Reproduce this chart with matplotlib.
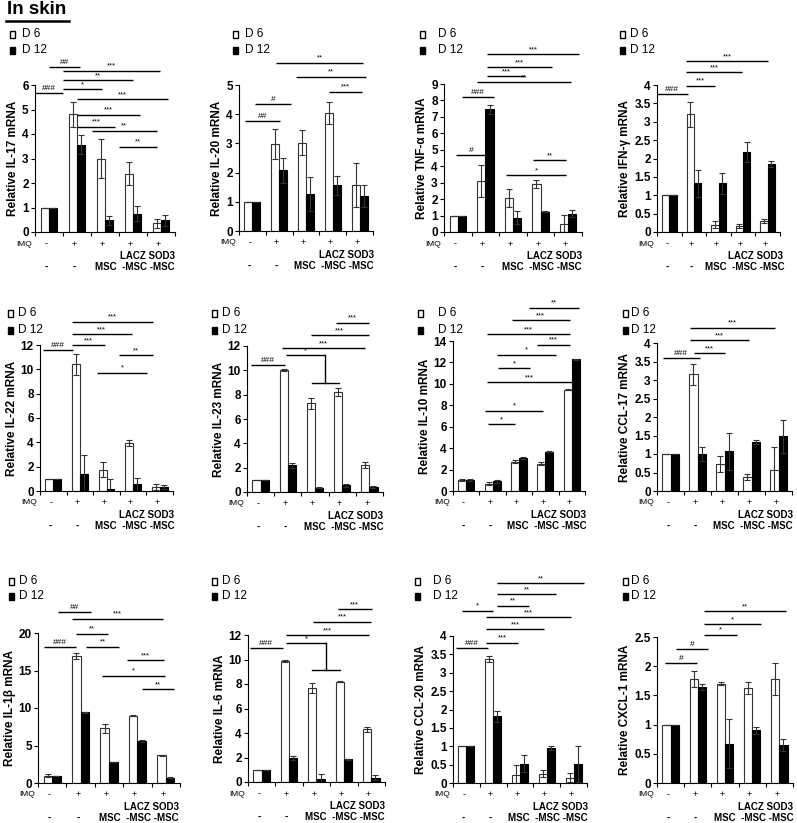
import matplotlib
matplotlib.use('Agg')
import matplotlib.pyplot as plt
import numpy as np
from matplotlib.patches import Rectangle
from matplotlib.lines import Line2D
from matplotlib.ticker import FormatStrFormatter

plt.rcParams['font.family'] = ['Liberation Sans', 'DejaVu Sans']

W, H = 797, 823

# x labels under each group
imq_row = ['-', '+', '+', '+', '+']
treat_row = ['-', '-']
vec_label = 'LACZ SOD3'
msc_label = 'MSC  -MSC -MSC'

# values (D 6 = white, D 12 = black)
il17_d6 = [1, 4.8, 3.0, 2.38, 0.35]
il17_d6_err = [0, 0.52, 0.78, 0.48, 0.18]
il17_d12 = [1, 3.57, 0.47, 0.75, 0.48]
il17_d12_err = [0, 0.4, 0.17, 0.32, 0.22]

il20_d6 = [1, 2.98, 3.03, 4.03, 1.58]
il20_d6_err = [0, 0.52, 0.42, 0.38, 0.75]
il20_d12 = [1, 2.08, 1.27, 1.57, 1.2]
il20_d12_err = [0, 0.42, 0.57, 0.32, 0.38]

tnf_d6 = [1, 3.1, 2.05, 2.93, 0.5]
tnf_d6_err = [0, 0.98, 0.55, 0.25, 0.52]
tnf_d12 = [1, 7.45, 0.88, 1.22, 1.12]
tnf_d12_err = [0, 0.3, 0.38, 0.03, 0.2]

ifn_d6 = [1, 3.2, 0.2, 0.17, 0.3]
ifn_d6_err = [0, 0.35, 0.1, 0.05, 0.05]
ifn_d12 = [1, 1.33, 1.32, 2.18, 1.85]
ifn_d12_err = [0, 0.37, 0.28, 0.27, 0.08]

il22_d6 = [1, 10.4, 1.75, 3.95, 0.3]
il22_d6_err = [0, 0.9, 0.6, 0.25, 0.25]
il22_d12 = [1, 1.4, 0.15, 0.55, 0.35]
il22_d12_err = [0, 1.6, 0.8, 0.55, 0.15]

il23_d6 = [1, 10.05, 7.3, 8.2, 2.2]
il23_d6_err = [0, 0.1, 0.45, 0.35, 0.25]
il23_d12 = [1, 2.2, 0.35, 0.55, 0.4]
il23_d12_err = [0, 0.2, 0.05, 0.1, 0.1]

il10_d6 = [1.0, 0.7, 2.75, 2.55, 9.45]
il10_d6_err = [0.1, 0.1, 0.12, 0.15, 0.05]
il10_d12 = [1.0, 0.9, 3.1, 3.65, 12.3]
il10_d12_err = [0.1, 0.12, 0.08, 0.05, 0.05]

ccl17_d6 = [1, 3.15, 0.73, 0.37, 0.58]
ccl17_d6_err = [0, 0.28, 0.22, 0.08, 0.62]
ccl17_d12 = [1, 1.0, 1.08, 1.32, 1.48]
ccl17_d12_err = [0, 0.18, 0.5, 0.05, 0.45]

il1b_d6 = [1, 17, 7.3, 9.0, 3.7]
il1b_d6_err = [0.2, 0.4, 0.6, 0.1, 0.05]
il1b_d12 = [1, 9.45, 2.8, 5.6, 0.7]
il1b_d12_err = [0, 0.05, 0.05, 0.15, 0.05]

il6_d6 = [1, 9.9, 7.7, 8.2, 4.3]
il6_d6_err = [0, 0.1, 0.4, 0.05, 0.2]
il6_d12 = [1, 1.95, 0.25, 1.85, 0.35]
il6_d12_err = [0, 0.15, 0.4, 0.03, 0.2]

ccl20_d6 = [1, 3.38, 0.22, 0.25, 0.14]
ccl20_d6_err = [0, 0.08, 0.27, 0.1, 0.12]
ccl20_d12 = [1, 1.82, 0.53, 0.96, 0.52]
ccl20_d12_err = [0, 0.15, 0.23, 0.06, 0.5]

cxcl1_d6 = [1, 1.78, 1.7, 1.63, 1.78]
cxcl1_d6_err = [0, 0.13, 0.03, 0.1, 0.27]
cxcl1_d12 = [1, 1.65, 0.67, 0.9, 0.65]
cxcl1_d12_err = [0, 0.05, 0.42, 0.06, 0.1]

# significance bars: (x start, x end, y, label)
il17_sig = [(-0.5, 0.5, 5.67, '###'), (0, 1.11, 6.72, '##'), (0.5, 3.96, 6.58, '***'),
            (0.5, 3.01, 6.19, '**'), (0.5, 1.88, 5.83, '*'), (0.99, 4.26, 5.42, '***'),
            (0.99, 3.25, 4.78, '***'), (0.99, 2.36, 4.30, '***'), (1.52, 3.85, 4.13, '**'),
            (2.51, 3.85, 3.48, '**')]
il20_sig = [(-0.29, 1.02, 3.78, '##'), (0.08, 1.45, 4.35, '#'), (0.89, 4.13, 5.76, '**'),
            (1.64, 4.25, 5.29, '**'), (2.86, 4.09, 4.77, '***')]
tnf_sig = [(0.17, 1.32, 8.19, '###'), (-0.06, 1.07, 4.68, '#'), (1.07, 4.38, 10.83, '***'),
           (1.07, 3.41, 10.02, '***'), (1.07, 2.42, 9.47, '***'), (0.71, 4.1, 9.12, '**'),
           (2.74, 3.92, 4.38, '**'), (1.75, 3.92, 3.46, '*')]
ifn_sig = [(-0.5, 0.74, 3.75, '###'), (0.69, 4.03, 4.65, '***'), (0.69, 2.95, 4.35, '***'),
           (0.69, 1.86, 3.98, '***')]
il22_sig = [(-0.375, 0.74, 11.59, '###'), (0.71, 3.74, 13.92, '***'), (0.71, 2.94, 12.9, '***'),
            (0.71, 1.94, 12.0, '***'), (2.48, 3.73, 11.18, '**'), (1.65, 3.53, 9.73, '*')]
il23_sig = [(-0.34, 0.88, 10.47, '###'), (0.95, 2.38, 11.23, '*'), (0.80, 3.85, 11.84, '***'),
            (1.84, 3.99, 12.88, '***'), (2.78, 3.99, 13.92, '***')]
il10_sig = [(2.39, 4.27, 17.1, '**'), (1.72, 3.93, 15.94, '***'), (0.77, 3.93, 14.66, '***'),
            (2.70, 3.93, 13.66, '***'), (1.15, 3.39, 12.72, '*'), (1.21, 2.41, 11.47, '*'),
            (0.77, 4.0, 10.16, '***'), (0.70, 2.92, 7.5, '*'), (0.83, 1.84, 6.25, '*')]
ccl17_sig = [(-0.28, 1.08, 3.59, '###'), (0.73, 3.88, 4.41, '***'), (0.73, 2.92, 4.07, '***'),
             (0.88, 2.0, 3.73, '***')]
il1b_sig = [(-0.29, 0.85, 18.1, '###'), (0.21, 1.38, 22.8, '##'), (0.68, 3.91, 21.9, '***'),
            (0.85, 1.97, 19.9, '**'), (1.18, 2.36, 18.2, '**'), (2.62, 3.94, 16.4, '***'),
            (1.74, 3.97, 14.3, '*'), (3.15, 4.29, 12.5, '**')]
il6_sig = [(-0.44, 0.77, 10.92, '###'), (0.90, 2.34, 11.33, '*'), (0.88, 3.93, 11.96, '***'),
           (1.88, 3.98, 13.1, '***'), (2.79, 4.01, 14.1, '***')]
ccl20_sig = [(-0.375, 0.81, 3.67, '###'), (0.73, 1.94, 3.82, '***'), (0.73, 2.91, 4.18, '***'),
             (0.73, 3.91, 4.51, '***'), (-0.15, 0.98, 4.69, '*'), (1.15, 2.35, 4.82, '**'),
             (1.15, 3.34, 5.13, '**'), (1.15, 4.38, 5.43, '**')]
cxcl1_sig = [(-0.2, 0.96, 2.05, '#'), (0.21, 1.39, 2.30, '#'), (1.21, 2.43, 2.54, '*'),
             (1.21, 3.34, 2.72, '*'), (1.21, 4.26, 2.94, '**')]

# bracket drop for IL-23 / IL-6: (x of drop, y top, y low, x low start, x low end)
il23_bracket = (2.38, 11.23, 8.96, 1.90, 2.88)
il6_bracket = (2.34, 11.33, 9.16, 1.85, 2.85)

# panel layout in pixels: left, right, top, bottom ; legend: square x, text x, y D6, y D12
panels = [
    ('Relative IL-17 mRNA', 6, 1, il17_d6, il17_d6_err, il17_d12, il17_d12_err, il17_sig, None,
     (35, 175, 85, 232), (10, 22, 34, 50)),
    ('Relative IL-20 mRNA', 5, 1, il20_d6, il20_d6_err, il20_d12, il20_d12_err, il20_sig, None,
     (239, 373, 85, 231), (233, 245, 34, 50)),
    ('Relative TNF-α mRNA', 9, 1, tnf_d6, tnf_d6_err, tnf_d12, tnf_d12_err, tnf_sig, None,
     (444, 582, 84, 232), (420, 438, 34, 50)),
    ('Relative IFN-γ mRNA', 4, 0.5, ifn_d6, ifn_d6_err, ifn_d12, ifn_d12_err, ifn_sig, None,
     (657, 780, 85, 232), (620, 630, 34, 50)),
    ('Relative IL-22 mRNA', 12, 2, il22_d6, il22_d6_err, il22_d12, il22_d12_err, il22_sig, None,
     (40, 173, 345, 491), (8, 18, 313, 330)),
    ('Relative IL-23 mRNA', 12, 2, il23_d6, il23_d6_err, il23_d12, il23_d12_err, il23_sig, il23_bracket,
     (247, 383, 346, 492), (212, 222, 313, 330)),
    ('Relative IL-10 mRNA', 14, 2, il10_d6, il10_d6_err, il10_d12, il10_d12_err, il10_sig, None,
     (453, 585, 341, 491), (418, 438, 313, 330)),
    ('Relative CCL-17 mRNA', 4, 0.5, ccl17_d6, ccl17_d6_err, ccl17_d12, ccl17_d12_err, ccl17_sig, None,
     (657, 792, 343, 491), (623, 631, 313, 330)),
    ('Relative IL-1β mRNA', 20, 5, il1b_d6, il1b_d6_err, il1b_d12, il1b_d12_err, il1b_sig, None,
     (38, 180, 633, 783), (9, 19, 581, 596)),
    ('Relative IL-6 mRNA', 12, 2, il6_d6, il6_d6_err, il6_d12, il6_d12_err, il6_sig, il6_bracket,
     (248, 385, 635, 782), (212, 222, 581, 596)),
    ('Relative CCL-20 mRNA', 4, 0.5, ccl20_d6, ccl20_d6_err, ccl20_d12, ccl20_d12_err, ccl20_sig, None,
     (453, 587, 636, 783), (415, 433, 581, 596)),
    ('Relative CXCL-1 mRNA', 2.5, 0.5, cxcl1_d6, cxcl1_d6_err, cxcl1_d12, cxcl1_d12_err, cxcl1_sig, None,
     (657, 793, 637, 783), (623, 631, 581, 596)),
]

fig = plt.figure(figsize=(W / 100, H / 100), dpi=100)

# title
fig.text(7 / W, 1 - 1 / H, 'In skin', fontsize=13.5, fontweight='bold', va='top', ha='left')
fig.add_artist(Line2D([6 / W, 69 / W], [1 - 21 / H, 1 - 21 / H], color='black', lw=1.8,
                      transform=fig.transFigure))

x = np.arange(5)
bw = 0.3

for (ylab, ymax, ystep, d6, d6e, d12, d12e, sig, bracket, box, leg) in panels:
    l, r, t, b = box
    ax = fig.add_axes([l / W, 1 - b / H, (r - l) / W, (b - t) / H])
    ax.bar(x - bw / 2, d6, bw, color='white', edgecolor='#333333', linewidth=0.8,
           yerr=d6e, capsize=2.2, error_kw=dict(elinewidth=0.8, capthick=0.8, ecolor='#333333'))
    ax.bar(x + bw / 2, d12, bw, color='black', edgecolor='black', linewidth=0.8,
           yerr=d12e, capsize=2.2, error_kw=dict(elinewidth=0.8, capthick=0.8, ecolor='#333333'))
    ax.set_xlim(-0.5, 4.5)
    ax.set_ylim(0, ymax)
    ax.set_yticks(np.arange(0, ymax + ystep / 2, ystep))
    ax.yaxis.set_major_formatter(FormatStrFormatter('%g'))
    ax.set_xticks(np.arange(-0.5, 5, 1))
    ax.set_xticklabels([])
    ax.tick_params(axis='x', direction='out', length=3, width=0.8)
    ax.tick_params(axis='y', direction='out', length=3, width=0.8, labelsize=8.5, pad=1.5)
    for lbl in ax.get_yticklabels():
        lbl.set_fontweight('bold')
    for s in ['top', 'right']:
        ax.spines[s].set_visible(False)
    for s in ['left', 'bottom']:
        ax.spines[s].set_linewidth(0.8)
    ax.set_ylabel(ylab, fontsize=8.5, fontweight='bold', labelpad=2)

    # group labels
    ax.annotate('IMQ', xy=(0, 0), xycoords='axes fraction', xytext=(-3, -12),
                textcoords='offset pixels', ha='right', va='center', fontsize=6)
    for i in range(5):
        ax.annotate(imq_row[i], xy=(i - 0.1, 0), xycoords=('data', 'axes fraction'),
                    xytext=(0, -12), textcoords='offset pixels', ha='center', va='center',
                    fontsize=6.5)
    for i, t_ in enumerate(treat_row):
        ax.annotate(t_, xy=(i - 0.1, 0), xycoords=('data', 'axes fraction'),
                    xytext=(0, -35), textcoords='offset pixels', ha='center', va='center',
                    fontsize=7, fontweight='bold')
    ax.annotate(vec_label, xy=(3.5, 0), xycoords=('data', 'axes fraction'),
                xytext=(0, -24), textcoords='offset pixels', ha='center', va='center',
                fontsize=7, fontweight='bold')
    ax.annotate(msc_label, xy=(3.05, 0), xycoords=('data', 'axes fraction'),
                xytext=(0, -35), textcoords='offset pixels', ha='center', va='center',
                fontsize=7, fontweight='bold')

    # significance lines
    for (x1, x2, y, txt) in sig:
        ax.plot([x1, x2], [y, y], color='black', lw=1.0, clip_on=False, solid_capstyle='butt')
        fs = 6 if '#' in txt else 5.5
        ax.annotate(txt, xy=((x1 + x2) / 2, y), xytext=(0, 1), textcoords='offset pixels',
                    ha='center', va='bottom', fontsize=fs, annotation_clip=False)
    if bracket is not None:
        bx, ytop, ylow, lx1, lx2 = bracket
        ax.plot([bx, bx], [ytop, ylow], color='black', lw=1.0, clip_on=False)
        ax.plot([lx1, lx2], [ylow, ylow], color='black', lw=1.0, clip_on=False)

    # legend
    sx, tx, y6, y12 = leg
    for yy, fc, lab in [(y6, 'white', 'D 6'), (y12, 'black', 'D 12')]:
        fig.add_artist(Rectangle((sx / W, 1 - (yy + 3.5) / H), 5 / W, 7 / H, facecolor=fc,
                                 edgecolor='black', lw=1.0, transform=fig.transFigure))
        fig.text(tx / W, 1 - yy / H, lab, fontsize=8.5, va='center', ha='left')

fig.savefig('out.png', dpi=100)
